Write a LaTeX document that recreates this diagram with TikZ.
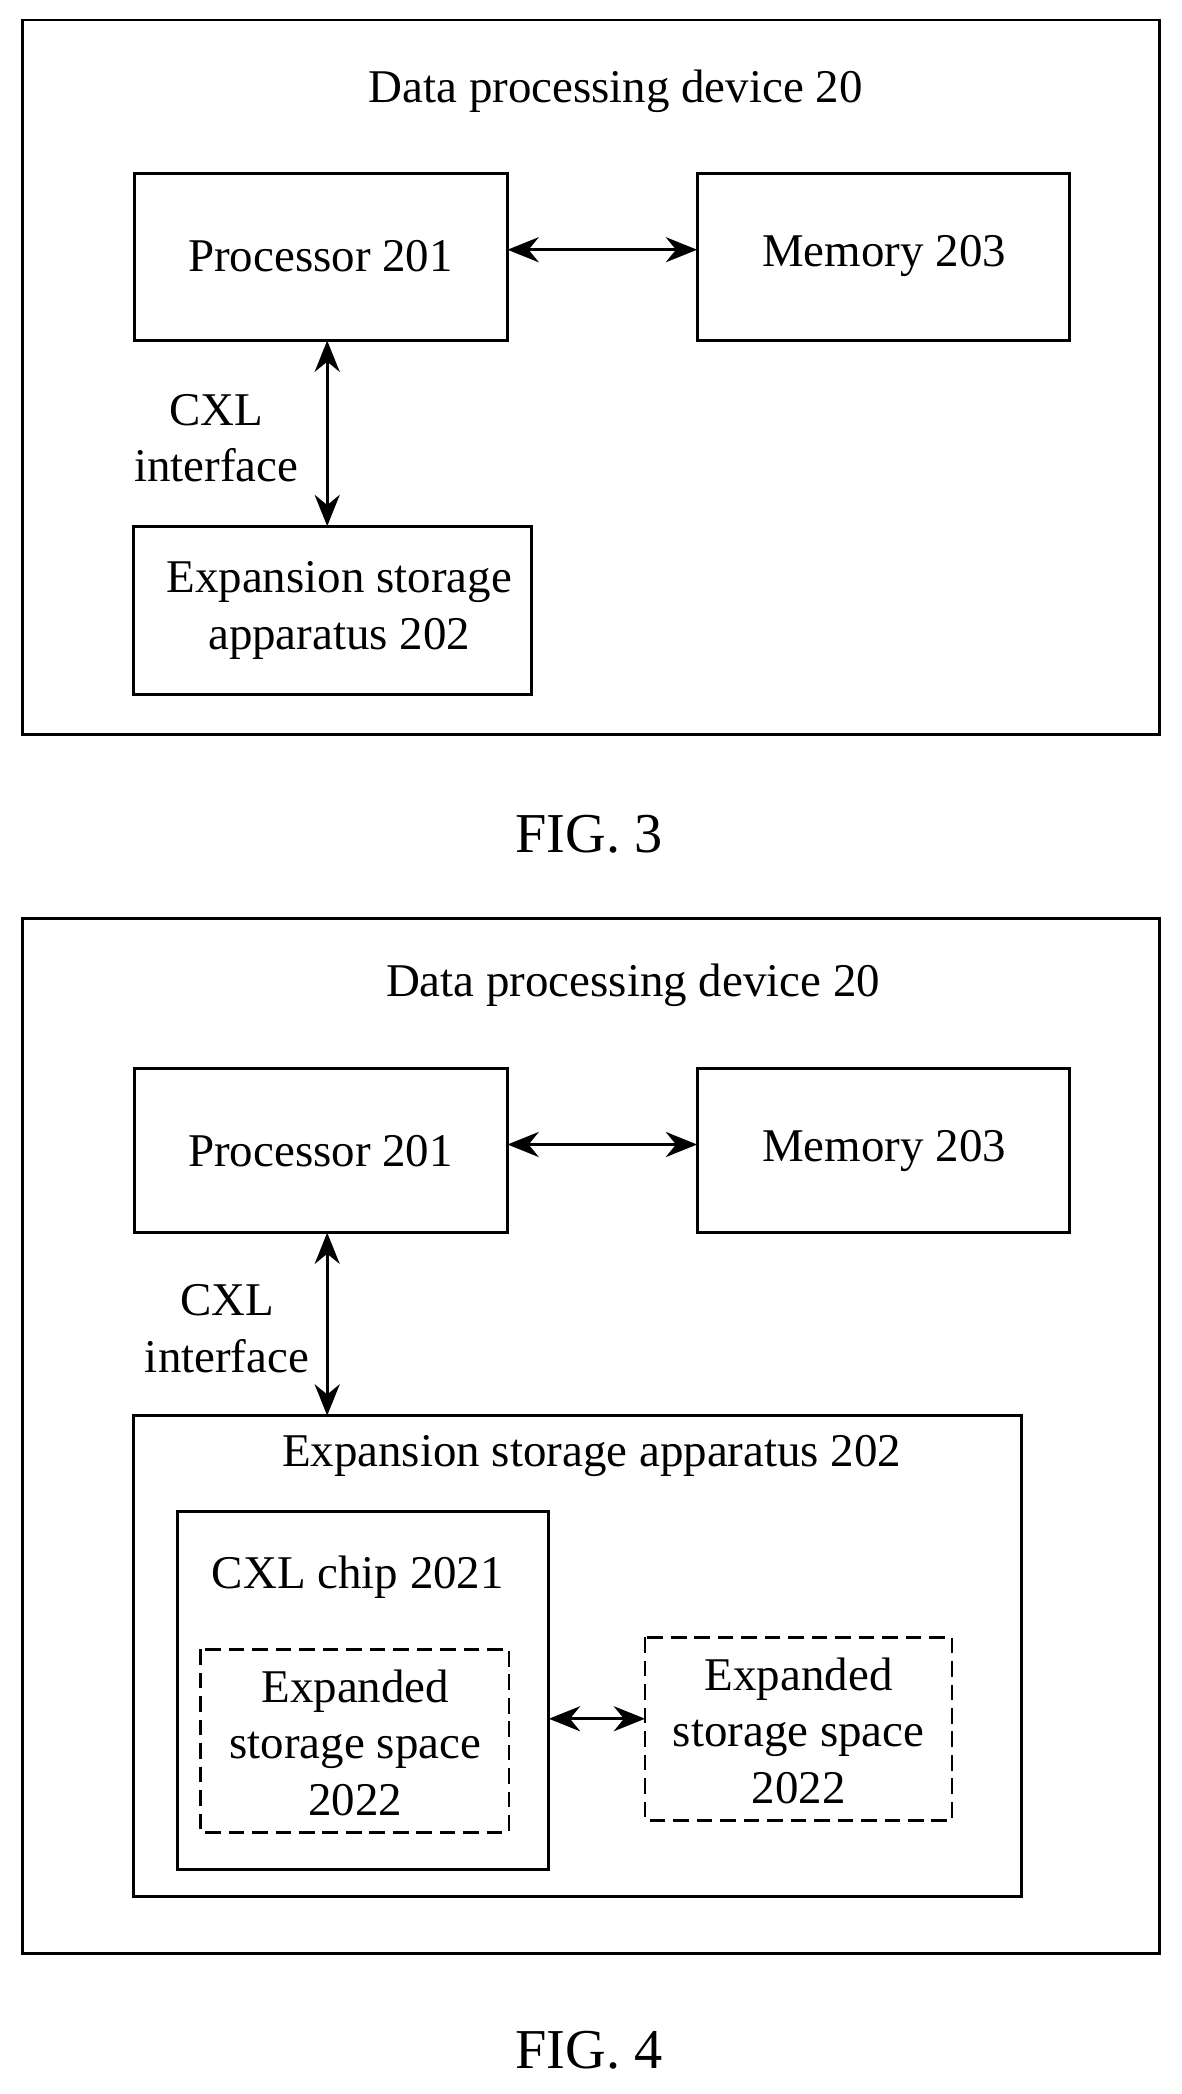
\documentclass[tikz,border=0pt]{standalone}
\usepackage{fontspec}
\setmainfont{Liberation Serif}
\usetikzlibrary{arrows.meta}
\begin{document}
\begin{tikzpicture}[x=0.03cm,y=-0.03cm,
  box/.style={draw,line width=1.8pt},
  dbox/.style={draw,line width=1.6pt,dash pattern=on 10pt off 5pt},
  lbl/.style={font=\fontsize{30}{36}\selectfont,align=center},
  fig/.style={font=\fontsize{36}{40}\selectfont},
  arr/.style={line width=2pt,{Stealth[length=20pt,width=16pt]}-{Stealth[length=20pt,width=16pt]}}]
\useasboundingbox (0,0) rectangle (885,1568);
% FIG 3
\draw[box] (17,15) rectangle (868,550);
\node[lbl] (t3) at (461,68) {Data processing device 20};
\draw[box] (101,130) rectangle (380,255);
\node[lbl] (p3) at (240,192) {Processor 201};
\coordinate (p3e) at (380,187); \coordinate (p3s) at (245,255);
\draw[box] (522,130) rectangle (801,255);
\node[lbl] (m3) at (662,192) {Memory 203};
\coordinate (m3w) at (522,187);
\draw[arr] (p3e) -- (m3w);
\draw[box] (100,394) rectangle (398,520);
\node[lbl] (e3) at (254,457) {Expansion storage\\apparatus 202};
\coordinate (e3n) at (245,394);
\draw[arr] (p3s) -- (e3n);
\node[lbl] (c3) at (162,328) {CXL\\interface};
\node[fig] (f3) at (441,625) {FIG. 3};
% FIG 4
\draw[box] (17,688) rectangle (868,1463);
\node[lbl] (t4) at (474,738) {Data processing device 20};
\draw[box] (101,800) rectangle (380,923);
\node[lbl] (p4) at (240,862) {Processor 201};
\coordinate (p4e) at (380,857); \coordinate (p4s) at (245,923);
\draw[box] (522,800) rectangle (801,923);
\node[lbl] (m4) at (662,862) {Memory 203};
\coordinate (m4w) at (522,857);
\draw[arr] (p4e) -- (m4w);
\draw[box] (100,1060) rectangle (765,1420);
\node[lbl] (e4) at (443,1090) {Expansion storage apparatus 202};
\coordinate (e4n) at (245,1060);
\draw[arr] (p4s) -- (e4n);
\node[lbl] (c4) at (170,995) {CXL\\interface};
\draw[box] (133,1132) rectangle (411,1400);
\node[lbl] (ch) at (268,1181) {CXL chip 2021};
\draw[dbox] (150,1235) rectangle (381,1372);
\node[lbl] (s1) at (266,1305) {Expanded\\storage space\\2022};
\draw[dbox] (483,1226) rectangle (713,1363);
\node[lbl] (s2) at (598,1296) {Expanded\\storage space\\2022};
\coordinate (che) at (411,1287); \coordinate (s2w) at (483,1287);
\draw[arr] (che) -- (s2w);
\node[fig] (f4) at (441,1535) {FIG. 4};
\end{tikzpicture}
\end{document}
